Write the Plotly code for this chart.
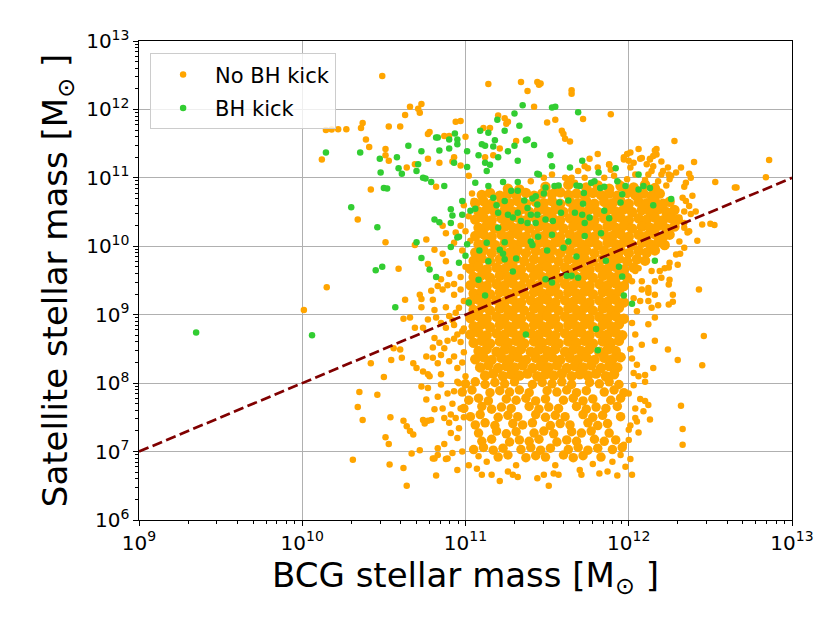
import plotly.graph_objects as go

# log10 stellar masses (BCG, satellite)
# satellites without a BH kick, the sparser points
nokick_sparse = [
    (10.49, 12.49), (10.66, 12.04), (10.71, 12.01), (10.73, 12.08), (10.72, 11.95), (10.63, 11.92),
    (10.37, 11.80), (10.36, 11.73), (10.145, 11.70), (10.18, 11.705), (10.22, 11.71), (10.27, 11.71),
    (10.53, 11.75), (10.60, 11.75), (10.94, 11.82), (10.97, 11.83), (10.39, 11.56), (10.41, 11.45),
    (10.12, 11.27), (10.51, 11.42), (10.51, 11.33), (10.53, 11.25), (10.64, 11.15), (10.69, 11.20),
    (10.77, 11.28), (10.77, 11.64), (10.78, 11.67), (10.87, 11.61), (10.90, 11.61), (10.84, 11.22),
    (10.92, 11.24), (10.97, 11.18), (11.00, 11.60), (11.02, 11.03), (10.82, 10.87), (10.42, 10.83),
    (10.34, 10.39), (10.51, 10.06), (10.69, 10.02), (10.86, 9.89), (11.05, 10.66), (10.93, 11.30),
    (11.14, 12.37), (11.34, 12.40), (11.38, 12.27), (11.44, 12.40), (11.46, 12.38), (11.45, 12.36),
    (11.65, 12.28), (11.65, 12.23), (11.42, 12.04), (11.89, 11.93), (11.72, 11.86), (11.55, 11.85),
    (11.50, 11.81), (11.59, 11.69), (11.60, 11.64), (11.61, 11.57), (11.64, 11.53), (11.20, 11.91),
    (11.24, 11.87), (11.25, 11.79), (11.26, 11.82), (11.11, 11.73), (11.15, 11.73), (11.31, 11.54),
    (11.21, 11.43), (11.12, 11.30), (11.17, 11.33),
    (11.65, 11.00), (11.69, 11.10), (11.61, 11.00), (11.75, 11.14), (11.81, 11.15), (11.88, 11.19),
    (11.89, 11.12), (11.97, 11.30), (12.00, 11.25), (12.01, 11.15), (11.99, 11.35), (12.06, 11.42),
    (12.13, 11.28), (12.17, 11.42), (12.17, 11.34), (11.81, 11.35), (11.76, 11.28), (11.73, 11.17),
    (11.88, 11.20), (12.08, 11.29), (12.11, 11.20), (12.14, 11.10), (12.20, 11.05), (12.24, 11.15),
    (12.26, 11.03), (12.29, 11.08), (12.40, 11.23), (12.32, 11.15), (12.37, 11.06), (12.38, 11.00),
    (12.35, 10.93), (12.28, 11.54), (11.63, 10.98), (11.67, 10.93), (11.73, 11.00), (11.78, 10.93),
    (11.85, 11.00), (11.91, 11.03), (11.94, 10.93), (11.48, 11.00), (11.53, 11.05), (11.40, 10.95),
    (11.04, 10.77), (11.055, 10.66), (12.01, 11.37), (12.07, 11.28), (12.03, 11.22), (11.97, 11.27),
    (12.16, 11.40), (12.15, 11.32), (12.20, 11.24), (12.21, 11.10), (12.13, 11.27), (12.15, 11.17),
    (12.12, 11.05), (12.245, 11.05), (12.23, 10.89), (12.25, 10.98), (12.04, 11.05), (12.10, 10.97),
    (12.18, 10.95), (11.99, 10.98),
    (12.86, 11.26), (12.84, 11.01), (12.53, 10.94), (12.65, 10.86), (12.66, 10.86), (12.39, 10.74),
    (12.50, 10.33), (12.525, 10.31), (12.45, 10.32), (12.42, 10.08), (12.34, 10.87), (12.35, 10.66),
    (12.33, 10.71), (12.37, 10.59), (12.34, 10.51), (12.36, 10.20), (12.38, 10.47), (12.41, 10.51),
    (12.31, 10.42), (12.34, 10.34), (12.37, 10.22), (12.34, 10.27), (12.31, 10.07), (12.34, 9.98),
    (12.29, 9.88), (12.25, 9.76), (12.22, 9.68), (12.30, 9.73), (12.315, 9.89), (12.25, 9.51),
    (12.245, 9.44), (12.27, 9.29), (12.27, 9.19), (12.18, 9.14), (12.12, 9.32), (12.16, 9.49),
    (12.19, 9.64), (12.245, 9.69), (12.20, 9.54), (12.14, 9.64), (12.12, 9.39), (12.16, 9.29),
    (12.245, 9.15), (12.12, 9.20), (12.06, 9.68), (12.02, 9.49), (12.08, 9.37), (12.03, 9.24),
    (12.43, 9.37), (12.46, 8.69), (12.45, 8.26), (12.32, 7.67), (12.33, 7.33), (12.33, 7.10),
    (12.30, 8.34), (12.24, 8.49), (12.16, 8.62), (12.15, 8.22), (12.09, 7.59), (12.13, 7.47),
    (12.05, 7.44), (12.01, 6.89), (12.04, 9.64), (12.08, 9.49), (12.12, 9.35), (12.07, 9.20),
    (12.14, 9.10), (12.16, 8.96), (12.12, 8.86), (12.04, 8.71), (12.08, 8.56), (12.02, 8.36),
    (12.05, 8.27), (12.10, 8.12), (12.03, 7.97), (12.07, 7.77), (12.12, 7.68), (12.04, 7.63),
    (12.01, 7.38), (12.06, 7.28), (12.00, 7.17), (12.06, 8.10), (12.10, 7.74), (12.04, 7.49),
    (12.00, 7.32), (11.98, 6.78), (12.10, 8.02), (12.02, 8.88), (12.05, 9.05), (12.01, 8.50),
    (12.03, 8.15), (12.00, 7.85),
    (10.01, 9.07), (10.15, 9.40), (10.59, 9.67), (10.63, 9.22), (10.42, 8.29), (10.50, 8.09),
    (10.35, 7.87), (10.46, 7.83), (10.34, 7.65), (10.37, 7.46), (10.54, 7.50), (10.51, 7.21),
    (10.53, 7.11), (10.31, 6.88), (10.535, 6.81), (10.62, 6.76), (10.64, 6.50), (10.67, 6.97),
    (10.72, 7.02), (10.62, 7.45), (10.64, 7.37), (10.66, 7.30), (10.68, 7.25), (10.56, 8.51),
    (10.60, 8.49), (10.545, 8.34), (10.61, 8.37), (10.68, 8.29), (10.70, 8.22), (10.74, 8.17),
    (10.83, 8.29), (10.95, 8.22), (10.77, 8.13), (10.85, 8.13), (10.74, 7.46), (10.77, 7.45),
    (10.75, 7.41), (10.80, 6.90), (10.83, 6.95), (10.82, 6.65), (10.88, 6.89), (10.95, 6.73),
    (10.73, 9.11), (10.72, 9.29), (10.73, 9.23), (10.79, 9.35), (10.80, 9.22), (10.81, 9.07),
    (10.83, 9.42), (10.86, 9.37), (10.89, 9.43), (10.77, 9.74), (10.88, 9.78), (10.93, 9.29),
    (10.97, 9.37), (10.88, 9.11), (10.90, 8.98), (10.94, 9.03), (10.62, 8.94), (10.66, 8.96),
    (10.69, 8.81), (10.74, 8.81), (10.77, 8.93), (10.82, 8.96), (10.85, 8.88), (10.88, 8.81),
    (10.93, 8.85), (10.95, 8.71), (10.98, 8.76), (10.81, 8.66), (10.84, 8.59), (10.87, 8.51),
    (10.80, 8.52), (10.76, 8.39), (10.80, 8.37), (10.85, 8.41), (10.90, 8.32), (10.93, 8.39),
    (10.90, 9.60), (10.85, 9.52), (10.93, 9.45), (10.97, 9.55), (10.99, 9.20), (10.96, 9.10),
    (10.92, 8.92), (10.99, 8.80), (10.97, 8.60), (10.93, 8.65), (10.99, 8.45), (10.89, 8.62),
    (10.98, 8.30), (11.00, 8.10), (10.96, 8.00), (10.92, 7.70), (10.99, 7.50), (10.95, 7.20),
    (10.98, 7.00), (10.92, 6.98), (10.99, 10.60), (11.02, 10.44), (10.97, 10.30), (11.00, 10.22),
    (10.94, 10.20), (11.03, 10.08), (10.98, 9.94), (10.93, 10.05), (10.88, 10.19), (10.86, 10.30),
    (10.81, 9.95), (10.76, 10.10), (11.00, 9.70),
    (10.81, 6.90), (10.83, 7.05), (10.87, 7.11), (10.89, 6.90), (10.90, 7.42), (10.91, 7.27),
    (10.94, 7.49), (10.97, 7.63), (10.96, 7.34), (10.91, 7.54), (10.73, 7.95), (10.77, 7.93),
    (10.78, 8.10), (10.85, 7.98), (10.89, 7.85), (10.93, 7.88), (10.95, 8.02), (10.76, 7.76),
    (10.83, 7.80), (10.81, 7.62), (10.86, 7.63), (10.87, 7.49), (10.79, 7.46),
    (11.07, 6.75), (11.02, 6.80), (11.10, 6.66), (11.16, 6.66), (11.21, 6.57), (11.26, 6.71),
    (11.29, 6.66), (11.32, 6.63), (11.44, 6.61), (11.48, 6.66), (11.54, 6.68), (11.57, 6.66),
    (11.70, 6.73), (11.71, 6.66), (11.82, 6.68), (11.87, 6.71), (11.93, 6.65), (12.02, 6.66),
    (11.51, 6.50), (11.13, 6.85), (11.31, 6.80), (11.55, 6.80), (11.78, 6.82), (11.90, 6.85),
    (11.95, 6.95), (11.08, 6.93), (11.97, 7.10),
]

# satellites without a BH kick, the solid block between 1e11 and 1e12
nokick_dense = [
    (11.26, 10.84), (11.33, 10.83), (11.49, 10.87), (11.56, 10.85), (11.63, 10.90), (11.74, 10.86),
    (11.81, 10.89), (11.88, 10.84), (11.95, 10.88), (12.03, 10.86), (12.10, 10.90), (12.16, 10.85),
    (11.10, 10.75), (11.15, 10.78), (11.21, 10.74), (11.26, 10.77), (11.31, 10.75), (11.37, 10.78),
    (11.42, 10.74), (11.47, 10.77), (11.53, 10.76), (11.58, 10.79), (11.63, 10.75), (11.68, 10.77),
    (11.73, 10.74), (11.78, 10.78), (11.83, 10.75), (11.88, 10.77), (11.93, 10.74), (11.99, 10.78),
    (12.04, 10.75), (12.09, 10.77), (12.14, 10.74), (12.19, 10.77),
    (11.06, 10.63), (11.11, 10.66), (11.16, 10.62), (11.22, 10.65), (11.27, 10.63), (11.32, 10.66),
    (11.37, 10.62), (11.43, 10.65), (11.48, 10.63), (11.53, 10.66), (11.58, 10.62), (11.64, 10.65),
    (11.69, 10.63), (11.74, 10.66), (11.79, 10.62), (11.85, 10.65), (11.90, 10.63), (11.95, 10.66),
    (12.00, 10.62), (12.06, 10.65), (12.11, 10.63), (12.16, 10.66), (12.21, 10.62), (12.25, 10.65),
    (11.08, 10.51), (11.13, 10.54), (11.18, 10.50), (11.24, 10.53), (11.29, 10.51), (11.34, 10.54),
    (11.39, 10.50), (11.45, 10.53), (11.50, 10.51), (11.55, 10.54), (11.60, 10.50), (11.66, 10.53),
    (11.71, 10.51), (11.76, 10.54), (11.81, 10.50), (11.87, 10.53), (11.92, 10.51), (11.97, 10.54),
    (12.02, 10.50), (12.08, 10.53), (12.13, 10.51), (12.18, 10.54), (12.23, 10.50), (12.28, 10.53),
    (11.06, 10.39), (11.11, 10.42), (11.16, 10.38), (11.22, 10.41), (11.27, 10.39), (11.32, 10.42),
    (11.37, 10.38), (11.43, 10.41), (11.48, 10.39), (11.53, 10.42), (11.58, 10.38), (11.64, 10.41),
    (11.69, 10.39), (11.74, 10.42), (11.79, 10.38), (11.85, 10.41), (11.90, 10.39), (11.95, 10.42),
    (12.00, 10.38), (12.06, 10.41), (12.11, 10.39), (12.16, 10.42), (12.21, 10.38), (12.26, 10.41),
    (12.30, 10.39),
    (11.08, 10.27), (11.13, 10.30), (11.18, 10.26), (11.24, 10.29), (11.29, 10.27), (11.34, 10.30),
    (11.39, 10.26), (11.45, 10.29), (11.50, 10.27), (11.55, 10.30), (11.60, 10.26), (11.66, 10.29),
    (11.71, 10.27), (11.76, 10.30), (11.81, 10.26), (11.87, 10.29), (11.92, 10.27), (11.97, 10.30),
    (12.02, 10.26), (12.08, 10.29), (12.13, 10.27), (12.18, 10.30), (12.23, 10.26), (12.28, 10.29),
    (11.06, 10.15), (11.11, 10.18), (11.16, 10.14), (11.22, 10.17), (11.27, 10.15), (11.32, 10.18),
    (11.37, 10.14), (11.43, 10.17), (11.48, 10.15), (11.53, 10.18), (11.58, 10.14), (11.64, 10.17),
    (11.69, 10.15), (11.74, 10.18), (11.79, 10.14), (11.85, 10.17), (11.90, 10.15), (11.95, 10.18),
    (12.00, 10.14), (12.06, 10.17), (12.11, 10.15), (12.16, 10.18), (12.21, 10.14), (12.25, 10.17),
    (11.08, 10.03), (11.13, 10.06), (11.18, 10.02), (11.24, 10.05), (11.29, 10.03), (11.34, 10.06),
    (11.39, 10.02), (11.45, 10.05), (11.50, 10.03), (11.55, 10.06), (11.60, 10.02), (11.66, 10.05),
    (11.71, 10.03), (11.76, 10.06), (11.81, 10.02), (11.87, 10.05), (11.92, 10.03), (11.97, 10.06),
    (12.02, 10.02), (12.08, 10.05), (12.13, 10.03), (12.18, 10.06), (12.22, 10.02),
    (11.06, 9.91), (11.11, 9.94), (11.16, 9.90), (11.22, 9.93), (11.27, 9.91), (11.32, 9.94),
    (11.37, 9.90), (11.43, 9.93), (11.48, 9.91), (11.53, 9.94), (11.58, 9.90), (11.64, 9.93),
    (11.69, 9.91), (11.74, 9.94), (11.79, 9.90), (11.85, 9.93), (11.90, 9.91), (11.95, 9.94),
    (12.00, 9.90), (12.06, 9.93), (12.11, 9.91), (12.16, 9.94),
    (11.05, 9.79), (11.10, 9.82), (11.15, 9.78), (11.21, 9.81), (11.26, 9.79), (11.31, 9.82),
    (11.36, 9.78), (11.42, 9.81), (11.47, 9.79), (11.52, 9.82), (11.57, 9.78), (11.63, 9.81),
    (11.68, 9.79), (11.73, 9.82), (11.78, 9.78), (11.84, 9.81), (11.89, 9.79), (11.94, 9.82),
    (11.99, 9.78), (12.05, 9.81), (12.10, 9.79),
    (11.03, 9.67), (11.08, 9.70), (11.13, 9.66), (11.19, 9.69), (11.24, 9.67), (11.29, 9.70),
    (11.34, 9.66), (11.40, 9.69), (11.45, 9.67), (11.50, 9.70), (11.55, 9.66), (11.61, 9.69),
    (11.66, 9.67), (11.71, 9.70), (11.76, 9.66), (11.82, 9.69), (11.87, 9.67), (11.92, 9.70),
    (11.97, 9.66), (12.03, 9.69),
    (11.05, 9.55), (11.10, 9.58), (11.15, 9.54), (11.21, 9.57), (11.26, 9.55), (11.31, 9.58),
    (11.36, 9.54), (11.42, 9.57), (11.47, 9.55), (11.52, 9.58), (11.57, 9.54), (11.63, 9.57),
    (11.68, 9.55), (11.73, 9.58), (11.78, 9.54), (11.84, 9.57), (11.89, 9.55), (11.94, 9.58),
    (11.99, 9.54),
    (11.03, 9.43), (11.08, 9.46), (11.13, 9.42), (11.19, 9.45), (11.24, 9.43), (11.29, 9.46),
    (11.34, 9.42), (11.40, 9.45), (11.45, 9.43), (11.50, 9.46), (11.55, 9.42), (11.61, 9.45),
    (11.66, 9.43), (11.71, 9.46), (11.76, 9.42), (11.82, 9.45), (11.87, 9.43), (11.92, 9.46),
    (11.97, 9.42),
    (11.05, 9.31), (11.10, 9.34), (11.15, 9.30), (11.21, 9.33), (11.26, 9.31), (11.31, 9.34),
    (11.36, 9.30), (11.42, 9.33), (11.47, 9.31), (11.52, 9.34), (11.57, 9.30), (11.63, 9.33),
    (11.68, 9.31), (11.73, 9.34), (11.78, 9.30), (11.84, 9.33), (11.89, 9.31), (11.94, 9.34),
    (11.03, 9.19), (11.08, 9.22), (11.13, 9.18), (11.19, 9.21), (11.24, 9.19), (11.29, 9.22),
    (11.34, 9.18), (11.40, 9.21), (11.45, 9.19), (11.50, 9.22), (11.55, 9.18), (11.61, 9.21),
    (11.66, 9.19), (11.71, 9.22), (11.76, 9.18), (11.82, 9.21), (11.87, 9.19), (11.92, 9.22),
    (11.97, 9.18),
    (11.05, 9.07), (11.10, 9.10), (11.15, 9.06), (11.21, 9.09), (11.26, 9.07), (11.31, 9.10),
    (11.36, 9.06), (11.42, 9.09), (11.47, 9.07), (11.52, 9.10), (11.57, 9.06), (11.63, 9.09),
    (11.68, 9.07), (11.73, 9.10), (11.78, 9.06), (11.84, 9.09), (11.89, 9.07), (11.94, 9.10),
    (11.03, 8.95), (11.08, 8.98), (11.13, 8.94), (11.19, 8.97), (11.24, 8.95), (11.29, 8.98),
    (11.34, 8.94), (11.40, 8.97), (11.45, 8.95), (11.50, 8.98), (11.55, 8.94), (11.61, 8.97),
    (11.66, 8.95), (11.71, 8.98), (11.76, 8.94), (11.82, 8.97), (11.87, 8.95), (11.92, 8.98),
    (11.97, 8.94),
    (11.05, 8.83), (11.10, 8.86), (11.15, 8.82), (11.21, 8.85), (11.26, 8.83), (11.31, 8.86),
    (11.36, 8.82), (11.42, 8.85), (11.47, 8.83), (11.52, 8.86), (11.57, 8.82), (11.63, 8.85),
    (11.68, 8.83), (11.73, 8.86), (11.78, 8.82), (11.84, 8.85), (11.89, 8.83), (11.94, 8.86),
    (11.03, 8.71), (11.08, 8.74), (11.13, 8.70), (11.19, 8.73), (11.24, 8.71), (11.29, 8.74),
    (11.34, 8.70), (11.40, 8.73), (11.45, 8.71), (11.50, 8.74), (11.55, 8.70), (11.61, 8.73),
    (11.66, 8.71), (11.71, 8.74), (11.76, 8.70), (11.82, 8.73), (11.87, 8.71), (11.92, 8.74),
    (11.96, 8.70),
    (11.05, 8.59), (11.10, 8.62), (11.15, 8.58), (11.21, 8.61), (11.26, 8.59), (11.31, 8.62),
    (11.36, 8.58), (11.42, 8.61), (11.47, 8.59), (11.52, 8.62), (11.57, 8.58), (11.63, 8.61),
    (11.68, 8.59), (11.73, 8.62), (11.78, 8.58), (11.84, 8.61), (11.89, 8.59), (11.94, 8.62),
    (11.08, 8.47), (11.13, 8.50), (11.19, 8.46), (11.24, 8.49), (11.29, 8.47), (11.34, 8.50),
    (11.40, 8.46), (11.45, 8.49), (11.50, 8.47), (11.55, 8.50), (11.61, 8.46), (11.66, 8.49),
    (11.71, 8.47), (11.76, 8.50), (11.82, 8.46), (11.87, 8.49), (11.92, 8.47),
    (11.06, 8.35), (11.11, 8.38), (11.16, 8.34), (11.22, 8.37), (11.27, 8.35), (11.32, 8.38),
    (11.37, 8.34), (11.43, 8.37), (11.48, 8.35), (11.53, 8.38), (11.58, 8.34), (11.64, 8.37),
    (11.69, 8.35), (11.74, 8.38), (11.79, 8.34), (11.85, 8.37), (11.90, 8.35), (11.95, 8.38),
    (11.09, 8.23), (11.14, 8.26), (11.20, 8.22), (11.25, 8.25), (11.30, 8.23), (11.35, 8.26),
    (11.41, 8.22), (11.46, 8.25), (11.51, 8.23), (11.56, 8.26), (11.62, 8.22), (11.67, 8.25),
    (11.72, 8.23), (11.77, 8.26), (11.83, 8.22), (11.88, 8.25), (11.93, 8.23),
    (11.12, 8.11), (11.17, 8.14), (11.23, 8.10), (11.28, 8.13), (11.33, 8.11), (11.38, 8.14),
    (11.44, 8.10), (11.49, 8.13), (11.54, 8.11), (11.59, 8.14), (11.65, 8.10), (11.70, 8.13),
    (11.75, 8.11), (11.80, 8.14), (11.86, 8.10), (11.91, 8.13),
]

# satellites without a BH kick, the patchier part below 1e8
nokick_lower = [
    (11.00, 7.99), (11.06, 8.02), (11.12, 7.98), (11.18, 8.01), (11.24, 7.99), (11.30, 8.02),
    (11.41, 7.98), (11.47, 8.01), (11.53, 7.99), (11.59, 8.02), (11.65, 7.98), (11.76, 8.01),
    (11.82, 7.99), (11.88, 8.02), (11.94, 7.98),
    (10.98, 7.87), (11.04, 7.90), (11.15, 7.86), (11.21, 7.89), (11.27, 7.87), (11.33, 7.90),
    (11.39, 7.86), (11.50, 7.89), (11.56, 7.87), (11.62, 7.90), (11.68, 7.86), (11.74, 7.89),
    (11.85, 7.87), (11.91, 7.90), (11.97, 7.86),
    (11.02, 7.75), (11.08, 7.78), (11.14, 7.74), (11.25, 7.77), (11.31, 7.75), (11.37, 7.78),
    (11.43, 7.74), (11.49, 7.77), (11.60, 7.75), (11.66, 7.78), (11.72, 7.74), (11.78, 7.77),
    (11.89, 7.75), (11.95, 7.78),
    (10.99, 7.63), (11.10, 7.66), (11.16, 7.62), (11.22, 7.65), (11.28, 7.63), (11.39, 7.66),
    (11.45, 7.62), (11.51, 7.65), (11.57, 7.63), (11.68, 7.66), (11.74, 7.62), (11.80, 7.65),
    (11.86, 7.63), (11.93, 7.66),
    (11.03, 7.51), (11.09, 7.54), (11.20, 7.50), (11.26, 7.53), (11.32, 7.51), (11.43, 7.54),
    (11.49, 7.50), (11.55, 7.53), (11.61, 7.51), (11.72, 7.54), (11.78, 7.50), (11.84, 7.53),
    (11.95, 7.51),
    (11.06, 7.39), (11.12, 7.42), (11.18, 7.38), (11.29, 7.41), (11.35, 7.39), (11.41, 7.42),
    (11.52, 7.38), (11.58, 7.41), (11.64, 7.39), (11.75, 7.42), (11.81, 7.38), (11.87, 7.41),
    (11.08, 7.27), (11.19, 7.30), (11.25, 7.26), (11.31, 7.29), (11.42, 7.27), (11.48, 7.30),
    (11.54, 7.26), (11.65, 7.29), (11.71, 7.27), (11.77, 7.30), (11.88, 7.27),
    (11.10, 7.15), (11.16, 7.18), (11.27, 7.14), (11.33, 7.17), (11.39, 7.15), (11.45, 7.18),
    (11.56, 7.14), (11.62, 7.17), (11.68, 7.15), (11.79, 7.18), (11.85, 7.15), (11.92, 7.17),
    (11.05, 7.03), (11.11, 7.06), (11.17, 7.02), (11.23, 7.05), (11.34, 7.03), (11.40, 7.06),
    (11.46, 7.02), (11.52, 7.05), (11.63, 7.03), (11.69, 7.06), (11.75, 7.02), (11.81, 7.05),
    (11.90, 7.03), (11.96, 7.06),
    (11.20, 6.92), (11.26, 6.95), (11.37, 6.91), (11.43, 6.94), (11.49, 6.92), (11.60, 6.95),
    (11.66, 6.91), (11.72, 6.94), (11.83, 6.92),
]

# satellites with a BH kick
kick = [
    (9.35, 8.74), (10.06, 8.70), (10.145, 11.37), (10.355, 11.37), (10.475, 11.28), (10.58, 11.30),
    (10.65, 11.47), (10.73, 11.39), (10.71, 11.20), (10.48, 11.08), (10.59, 11.14), (10.61, 11.06),
    (10.70, 11.10), (10.74, 11.00), (10.755, 10.99), (10.79, 10.94), (10.87, 10.88), (10.50, 10.85),
    (10.52, 10.845), (10.82, 11.59), (10.83, 11.59), (10.90, 11.56), (10.935, 11.65), (10.95, 11.56),
    (10.84, 11.40), (10.90, 11.43), (10.95, 11.49), (11.01, 11.39), (10.93, 11.22), (11.01, 11.16),
    (11.09, 11.69), (11.10, 11.49), (11.08, 11.33), (11.06, 10.93), (10.30, 10.57), (10.46, 10.28),
    (10.81, 10.39), (10.84, 10.35), (10.91, 10.54), (10.92, 10.45), (10.91, 10.34), (10.98, 10.66),
    (10.98, 10.46), (11.03, 10.52), (11.06, 10.55), (10.95, 10.13), (10.96, 10.14), (10.91, 9.99),
    (11.01, 10.03), (10.70, 10.06), (10.73, 9.83), (10.45, 9.65), (10.49, 9.70), (10.57, 9.11),
    (10.78, 9.66), (10.82, 9.55), (10.96, 9.76), (11.02, 9.18), (11.08, 9.51), (11.12, 9.28),
    (11.00, 9.86), (11.085, 9.94), (11.13, 10.05), (11.21, 9.95), (11.23, 9.89), (11.24, 10.06),
    (11.20, 10.27), (11.14, 9.78), (11.24, 9.81), (11.31, 9.82), (11.29, 9.63), (11.49, 9.52),
    (11.53, 9.47), (11.62, 9.57), (11.65, 9.57), (11.69, 9.54), (11.86, 9.79), (11.94, 9.70),
    (11.96, 9.56), (11.97, 9.28), (12.02, 9.16), (12.16, 9.79), (11.37, 8.71), (11.80, 8.79),
    (11.81, 8.48), (11.35, 12.06), (11.53, 12.03), (11.55, 12.04), (11.69, 11.96), (11.30, 11.94),
    (11.195, 11.85), (11.33, 11.76), (11.14, 11.66), (11.24, 11.69), (11.18, 11.55), (11.17, 11.46),
    (11.12, 11.47), (11.37, 11.55), (11.38, 11.56), (11.42, 11.48), (11.30, 11.47), (11.26, 11.39),
    (11.20, 11.30), (11.12, 11.22), (11.15, 11.19), (11.13, 11.10), (11.32, 11.25), (11.52, 11.33),
    (11.53, 11.17), (11.64, 11.15), (11.715, 11.25), (11.44, 11.06), (11.45, 11.05), (11.815, 11.08),
    (11.92, 11.14), (12.06, 11.05), (11.14, 10.88), (11.23, 10.94), (11.32, 10.94), (11.28, 10.81),
    (11.32, 10.81), (11.49, 10.86), (11.545, 10.88), (11.57, 10.89), (11.68, 10.89), (11.70, 10.88),
    (11.77, 10.93), (11.79, 10.95), (11.825, 10.85), (11.85, 10.87), (11.93, 10.95), (11.98, 10.88),
    (12.06, 10.83), (12.09, 10.88), (12.13, 10.85), (12.26, 10.69), (12.15, 10.60), (11.96, 10.76),
    (11.95, 10.64), (11.725, 10.78), (11.48, 10.77), (11.43, 10.73), (11.41, 10.70), (11.36, 10.67),
    (11.38, 10.56), (11.44, 10.61), (11.575, 10.64), (11.63, 10.67), (11.67, 10.49), (11.72, 10.62),
    (11.715, 10.46), (11.73, 10.34), (11.76, 10.42), (11.85, 10.52), (11.88, 10.41), (11.17, 10.71),
    (11.19, 10.60), (11.24, 10.66), (11.20, 10.49), (11.26, 10.46), (11.32, 10.49), (11.29, 10.42),
    (11.34, 10.37), (11.38, 10.34), (11.43, 10.34), (11.40, 10.46), (11.44, 10.46), (11.49, 10.39),
    (11.535, 10.37), (11.585, 10.49), (11.40, 10.07), (11.41, 10.02), (11.50, 9.94), (11.445, 10.14),
    (11.53, 10.17), (11.60, 9.98), (11.63, 10.07), (11.68, 9.85), (11.73, 10.15), (11.83, 10.19),
]

# one-to-one hundred mass ratio line
ratio_bcg = [1e9, 1e13]
ratio_sat = [1e7, 1e11]

x_exp = [9, 10, 11, 12, 13]
y_exp = [6, 7, 8, 9, 10, 11, 12, 13]


def split(pts):
    return [10 ** a for a, b in pts], [10 ** b for a, b in pts]


ORANGE = "#ffa500"
GREEN = "#32cd32"

fig = go.Figure()
dx, dy = split(nokick_dense)
fig.add_trace(go.Scatter(x=dx, y=dy, mode="markers", showlegend=False, hoverinfo="skip",
                         legendgroup="a", marker=dict(color=ORANGE, size=10.5)))
lx, ly = split(nokick_lower)
fig.add_trace(go.Scatter(x=lx, y=ly, mode="markers", showlegend=False, hoverinfo="skip",
                         legendgroup="a", marker=dict(color=ORANGE, size=9.5)))
sx, sy = split(nokick_sparse)
fig.add_trace(go.Scatter(x=sx, y=sy, mode="markers", name="No BH kick", legendgroup="a",
                         marker=dict(color=ORANGE, size=6.5)))
fig.add_trace(go.Scatter(x=ratio_bcg, y=ratio_sat, mode="lines", showlegend=False,
                         line=dict(color="#800000", width=2.7, dash="10.3px,4.4px")))
kx, ky = split(kick)
fig.add_trace(go.Scatter(x=kx, y=ky, mode="markers", name="BH kick", legendgroup="b",
                         marker=dict(color=GREEN, size=6.5)))


def log_axis(exps, lo, hi, title):
    return dict(
        type="log", range=[lo, hi],
        showgrid=True, gridcolor="#b0b0b0", gridwidth=1.1,
        showline=True, linecolor="black", linewidth=1.1, mirror=True,
        ticks="outside", ticklen=4.5, tickwidth=1.1, tickcolor="black",
        minor=dict(ticks="outside", ticklen=2.7, tickwidth=0.8, tickcolor="black",
                   showgrid=False, dtick="D1"),
        tickvals=[10 ** e for e in exps], ticktext=["10<sup>%d</sup>" % e for e in exps],
        tickfont=dict(family="DejaVu Sans", size=20, color="black"),
        zeroline=False,
        title=dict(text=title, font=dict(size=34), standoff=8),
    )


fig.update_layout(
    width=830, height=623,
    margin=dict(l=131, r=46, t=33, b=111),
    paper_bgcolor="white", plot_bgcolor="white",
    font=dict(family="DejaVu Sans", color="black"),
    xaxis=log_axis(x_exp, 9, 13, "BCG stellar mass [M<sub>⊙</sub> ]"),
    yaxis=log_axis(y_exp, 6, 13, "Satellite stellar mass [M<sub>⊙</sub> ]"),
    legend=dict(x=0.017, y=0.974, xanchor="left", yanchor="top",
                traceorder="grouped", tracegroupgap=3,
                bgcolor="rgba(255,255,255,0.8)", bordercolor="#cccccc", borderwidth=1,
                font=dict(family="DejaVu Sans", size=21), itemwidth=54),
)

fig.write_html("out.html")
